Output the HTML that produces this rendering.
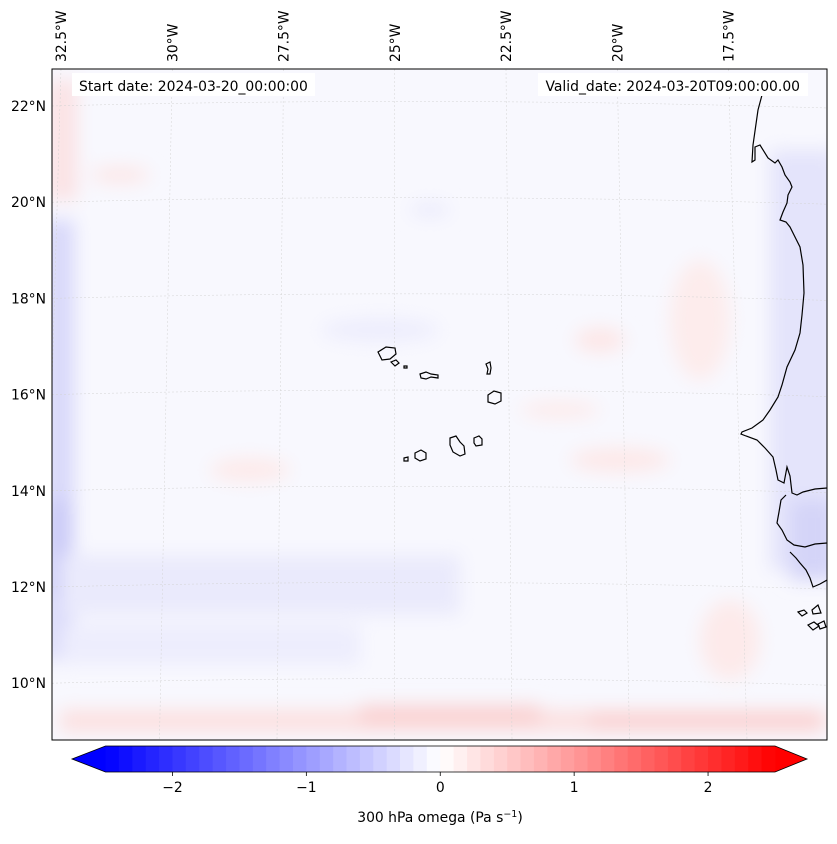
<!DOCTYPE html>
<html><head><meta charset="utf-8"><style>
body{margin:0;background:#fff;font-family:"Liberation Sans","DejaVu Sans",sans-serif}
svg text{font-family:"DejaVu Sans","Liberation Sans",sans-serif;font-size:13.9px;fill:#000}
</style></head><body>
<svg id="fig" width="837" height="839" viewBox="0 0 837 839" xmlns="http://www.w3.org/2000/svg">
<defs>
<filter id="blur" x="-50%" y="-50%" width="200%" height="200%"><feGaussianBlur stdDeviation="9"/></filter>
<clipPath id="mapclip"><rect x="52" y="69" width="775" height="671"/></clipPath>
</defs>
<g clip-path="url(#mapclip)">
<rect x="52" y="69" width="775" height="671" fill="#f8f8fe"/>
<g id="field" filter="url(#blur)">
<rect x="44" y="220" width="30" height="440" fill="#d8d8fa"/>
<rect x="44" y="500" width="26" height="100" fill="#cacaf7"/>
<rect x="48" y="80" width="29" height="120" fill="#fbe2e4"/>
<rect x="60" y="710" width="767" height="22" fill="#fce0e0"/>
<rect x="360" y="705" width="180" height="20" fill="#fad2d2"/>
<rect x="590" y="712" width="230" height="18" fill="#fad2d2"/>
<rect x="60" y="555" width="400" height="60" fill="#eaeafc"/>
<rect x="60" y="625" width="300" height="40" fill="#ededfd"/>
<rect x="770" y="150" width="67" height="420" fill="#e4e4fb"/>
<rect x="790" y="500" width="47" height="80" fill="#d4d4f8"/>
<ellipse cx="700" cy="320" rx="30" ry="60" fill="#fdecec"/>
<ellipse cx="600" cy="340" rx="25" ry="12" fill="#fde6e6"/>
<ellipse cx="250" cy="470" rx="40" ry="12" fill="#fdeaea"/>
<ellipse cx="620" cy="460" rx="50" ry="12" fill="#fde8e8"/>
<ellipse cx="120" cy="175" rx="30" ry="8" fill="#fde6e6"/>
<ellipse cx="430" cy="210" rx="20" ry="6" fill="#e8e8fc"/>
<ellipse cx="380" cy="330" rx="60" ry="12" fill="#ededfd"/>
<ellipse cx="560" cy="410" rx="40" ry="8" fill="#fdeaea"/>
<ellipse cx="730" cy="640" rx="30" ry="40" fill="#fdeaea"/>
</g>
<g id="grid" stroke="#d4d4d4" stroke-width="0.5" stroke-dasharray="2,2" fill="none"></g>
<g fill="none" stroke="#000" stroke-width="1.2">
<polyline points="764,85 762,95 758,110 753,145 752,162 755,160 755,147 760,145 768,158 775,163 778,160 782,167 785,175 790,182 792,187 788,195 787,203 783,212 780,220 786,222 790,227 795,237 800,247 803,265 804,293 802,315 800,333 795,350 787,367 782,385 778,397 770,410 763,420 752,428 742,432 741,434 746,436 757,440 765,448 773,457 776,470 778,480 784,483 787,467 790,476 792,493 797,495 803,492 815,489 827,488"/>
<polyline points="786,495 781,500 779,512 777,523 782,530 787,540 794,545 805,547 815,544 827,543"/>
<polyline points="790,552 796,558 800,563 806,570 810,578 813,587 820,584 827,580"/>
<path d="M798,612 l6,-2 l3,3 l-5,3 z M812,610 l6,-5 l3,8 l-8,1 z M808,625 l6,-3 l5,4 l-6,4 z M818,624 l6,-3 l2,6 l-6,2 z"/>
</g>
<g fill="none" stroke="#000" stroke-width="1.2">
<path d="M378,352 l8,-5 l9,1 l1,6 l-6,5 l-8,1 z"/>
<path d="M391,362 l5,-2 l3,3 l-4,3 z"/>
<path d="M404,366 l3,0 l0,2 l-3,0 z"/>
<path d="M420,374 l6,-2 l5,2 l7,1 l0,3 l-7,-1 l-5,2 l-5,-1 z"/>
<path d="M486,364 l4,-2 l1,6 l-1,6 l-3,0 l1,-5 z"/>
<path d="M488,395 l6,-4 l7,2 l0,8 l-6,3 l-7,-2 z"/>
<path d="M474,438 l5,-2 l3,3 l0,6 l-6,1 l-2,-3 z"/>
<path d="M450,438 l6,-2 l4,6 l4,4 l1,8 l-5,2 l-7,-4 l-3,-7 z"/>
<path d="M415,453 l6,-3 l5,3 l0,6 l-6,2 l-5,-3 z"/>
<path d="M404,458 l4,-1 l0,4 l-4,0 z"/>
</g>
<rect x="72" y="73" width="243" height="23" fill="#fff"/>
<rect x="538" y="73" width="270" height="23" fill="#fff"/>
<text x="79" y="91">Start date: 2024-03-20_00:00:00</text>
<text x="800" y="91" text-anchor="end">Valid_date: 2024-03-20T09:00:00.00</text>
</g>
<rect x="52" y="69" width="775" height="671" fill="none" stroke="#000" stroke-width="1"/>
<g id="latlabels"></g>
<g id="lonlabels"></g>
<g id="cbar"></g>
<text x="440" y="822" text-anchor="middle">300 hPa omega (Pa s<tspan dy="-5" font-size="9.5">−1</tspan><tspan dy="5">)</tspan></text>
</svg>
<script>
const latLabels=["22°N","20°N","18°N","16°N","14°N","12°N","10°N"];
const latValues=[22,20,18,16,14,12,10];
const lonLabels=["32.5°W","30°W","27.5°W","25°W","22.5°W","20°W","17.5°W"];
const lonValues=[-32.5,-30,-27.5,-25,-22.5,-20,-17.5];
const cbarTicks=[-2,-1,0,1,2];
const cbarTickLabels=["−2","−1","0","1","2"];
const cbarMin=-2.5, cbarMax=2.5, cbarStep=0.1;
const NS="http://www.w3.org/2000/svg";
function el(t,a,p){const e=document.createElementNS(NS,t);for(const k in a)e.setAttribute(k,a[k]);p.appendChild(e);return e;}
function latY(lat){return 106+(22-lat)*48.1;}
function lonTopX(lon){return 61+(lon+32.5)*44.5;}
function lonBotX(lon){return 42+(lon+32.5)*47.0;}
const grid=document.getElementById('grid');
latValues.forEach(v=>{const y=latY(v);
 const p=el('path',{d:`M52,${y} Q440,${y-10} 827,${y+2}`},grid);
 
 });
lonValues.forEach(v=>{const p=el('line',{x1:lonTopX(v),y1:69,x2:lonBotX(v),y2:740},grid);
 
 });
const ll=document.getElementById('latlabels');
latValues.forEach((v,i)=>{const t=el('text',{x:46,y:latY(v)+5,'text-anchor':'end'},ll);t.textContent=latLabels[i];
 
 });
const lo=document.getElementById('lonlabels');
lonValues.forEach((v,i)=>{const x=lonTopX(v)+5,y=62;const t=el('text',{x:x,y:y,transform:`rotate(-90 ${x} ${y})`},lo);t.textContent=lonLabels[i];
 
 });
const cb=document.getElementById('cbar');
const cx0=105.5,cx1=775,cy0=746,cy1=772;
function cX(v){return cx0+(v-cbarMin)/(cbarMax-cbarMin)*(cx1-cx0);}
function bwr(v){const t=(v-cbarMin)/(cbarMax-cbarMin);let r,g,b;
 if(t<0.5){r=g=Math.round(255*t*2);b=255;}else{r=255;g=b=Math.round(255*(1-t)*2);}return `rgb(${r},${g},${b})`;}
el('polygon',{points:`${cx0},${cy0} 72,${(cy0+cy1)/2} ${cx0},${cy1}`,fill:bwr(cbarMin)},cb);
el('polygon',{points:`${cx1},${cy0} 807,${(cy0+cy1)/2} ${cx1},${cy1}`,fill:bwr(cbarMax)},cb);
const n=Math.round((cbarMax-cbarMin)/cbarStep);
for(let i=0;i<n;i++){const a=cbarMin+i*cbarStep,b=a+cbarStep;
 const r=el('rect',{x:cX(a),y:cy0,width:cX(b)-cX(a)+0.5,height:cy1-cy0,fill:bwr((a+b)/2)},cb);
 
 }
el('polygon',{points:`72,${(cy0+cy1)/2} ${cx0},${cy0} ${cx1},${cy0} 807,${(cy0+cy1)/2} ${cx1},${cy1} ${cx0},${cy1}`,fill:'none',stroke:'#000','stroke-width':0.8},cb);
cbarTicks.forEach((v,i)=>{const x=cX(v);el('line',{x1:x,y1:cy1,x2:x,y2:cy1+4,stroke:'#000','stroke-width':0.8},cb);
 const t=el('text',{x:x,y:cy1+20,'text-anchor':'middle'},cb);t.textContent=cbarTickLabels[i];
 
 });
</script>
</body></html>
